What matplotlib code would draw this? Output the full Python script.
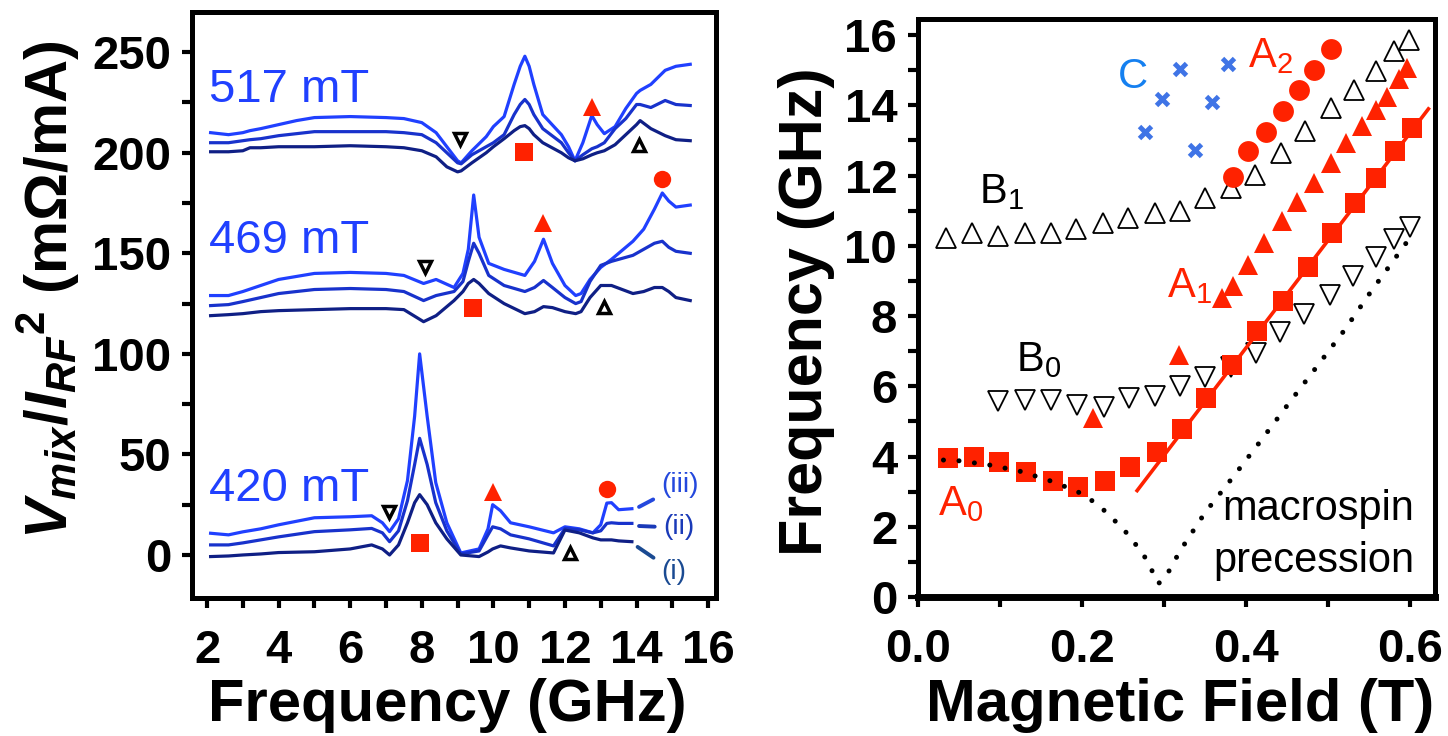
import matplotlib
matplotlib.use('Agg')
import matplotlib.pyplot as plt
from matplotlib.ticker import MultipleLocator, FormatStrFormatter

plt.rcParams['font.family'] = ['Liberation Sans', 'DejaVu Sans']
plt.rcParams['mathtext.fontset'] = 'custom'
plt.rcParams['mathtext.rm'] = 'Liberation Sans'
plt.rcParams['mathtext.it'] = 'Liberation Sans:italic:bold'
plt.rcParams['mathtext.bf'] = 'Liberation Sans:bold'
plt.rcParams['mathtext.sf'] = 'Liberation Sans'

# ---------------- left panel: spectra (frequency GHz, signal mOhm/mA) ----------------
f517 = [2.1, 2.6, 3.0, 3.2, 3.5, 4.0, 4.5, 5.0, 6.0, 7.0, 7.5, 8.0, 8.4, 8.7, 9.0, 9.1, 9.4, 9.8,
        10.0, 10.3, 10.58, 10.75, 10.88, 11.0, 11.13, 11.38, 11.9, 12.1, 12.28, 12.5, 12.75, 12.9,
        13.1, 13.4, 13.7, 14.0, 14.1, 14.4, 14.8, 15.1, 15.5]
s517_iii = [210, 209, 210, 211, 212, 214, 216, 217.5, 218, 217.5, 217, 215, 210, 203, 196, 195, 201, 208,
            213, 218, 234, 243, 248, 243, 234, 219, 209, 203, 196, 205, 218.5, 214,
            209.5, 213, 222, 229.5, 231, 234, 241, 243, 244]
s517_ii = [205, 205, 206, 206.5, 207, 208.5, 209.5, 210.5, 210.5, 210.5, 210, 209, 205, 200, 195, 194.5, 199, 203,
           205, 209, 219, 224, 226.5, 224, 219, 212, 205, 200, 196, 199, 202, 203,
           205, 212, 217, 224, 224, 222.5, 226, 224, 223.5]
s517_i = [200.5, 200.5, 201, 202.5, 202.5, 203, 203, 203, 203.5, 203, 202.5, 201, 198, 193, 190.5, 191, 195, 200,
          203, 207, 211, 213, 213.5, 212, 209, 205, 200, 197.5, 196, 197, 199, 200,
          201, 204, 209, 214, 216, 212, 208.5, 206.5, 206]

f469 = [2.1, 2.6, 3.0, 3.5, 4.0, 5.0, 6.0, 7.0, 7.5, 8.05, 8.4, 8.9, 9.15, 9.3, 9.45, 9.6, 9.87, 10.3,
        10.88, 11.15, 11.4, 11.65, 12.0, 12.3, 12.45, 12.7, 13.0, 13.3, 13.9, 14.2, 14.5, 14.72, 14.9,
        15.1, 15.5]
s469_iii = [129, 129, 131, 134, 137, 140, 140.5, 140, 139, 135, 137, 133, 140, 152, 179, 158, 145, 142,
            139, 146, 157, 145, 134, 129, 130, 137, 143, 147, 156, 162, 172, 180, 176, 173, 174]
s469_ii = [124, 124.5, 126, 128, 130, 132, 132.5, 132, 131, 126.5, 129, 131, 136, 146, 155, 150, 139, 134,
           131, 133, 136.5, 133, 128, 125, 126, 136, 144, 146, 149, 152, 155, 156, 153, 151, 150]
s469_i = [119, 119.5, 120, 121, 121.5, 122, 122.5, 122.5, 122, 116, 119, 126.5, 131, 135, 137, 135, 130, 125,
          120, 121, 123.5, 123, 121, 120, 121, 128, 134, 134, 130, 131, 133, 133, 131, 128, 126.5]

f420 = [2.1, 2.6, 3.0, 3.5, 4.0, 5.0, 6.0, 6.6, 6.9, 7.1, 7.35, 7.6, 7.8, 7.94, 8.15, 8.39, 8.7, 9.09,
        9.6, 9.85, 9.98, 10.2, 10.48, 11.0, 11.68, 12.0, 12.4, 12.78, 13.0, 13.17, 13.3, 13.5, 13.87]
s420_iii = [10.8, 10, 11.5, 13, 15, 18.5, 19, 19.5, 16, 11.6, 18, 37, 69, 100, 69, 36, 16, 1,
            3, 13, 25, 22, 16, 14, 11, 14, 13, 11, 15, 25.8, 26, 22.5, 23]
s420_ii = [5, 5, 6, 7.5, 9, 11.6, 12.5, 13.2, 11, 6.6, 12, 27, 45, 58, 45, 26, 12, 0.5,
           2, 10, 14, 13, 10, 8, 4.5, 13.2, 12.5, 11, 12, 15.7, 16, 15.7, 15.7]
s420_i = [-0.8, -0.5, 0, 0.5, 1.2, 1.6, 3, 5, 3, 0, 5, 16, 26, 30, 25, 16, 8, 0,
          -0.8, 1.5, 3, 4.5, 3.5, 2, 1, 12.4, 11, 8.5, 7.5, 7.5, 7.5, 7, 6.6]

# mode markers on spectra
Lb0_f = [9.07, 8.09, 7.09];   Lb0_v = [207, 143.3, 21.5]
Lb1_f = [14.07, 13.08, 12.13]; Lb1_v = [204, 123.4, 0.8]
La0_f = [10.85, 9.43, 7.94];  La0_v = [200.5, 122.6, 5.8]
La1_f = [12.75, 11.4, 10.0];  La1_v = [223, 165, 31.5]
La2_f = [14.72, 13.17];       La2_v = [187, 32.6]

field_labels = ['517 mT', '469 mT', '420 mT']
field_label_y = [225, 150, 27]

# ---------------- right panel: frequency vs field ----------------
A0_B = [0.036, 0.068, 0.099, 0.132, 0.165, 0.195, 0.228, 0.258, 0.291, 0.322, 0.3515, 0.383, 0.413,
        0.445, 0.4755, 0.504, 0.533, 0.558, 0.5815, 0.6024]
A0_F = [3.97, 4.00, 3.84, 3.57, 3.29, 3.14, 3.29, 3.71, 4.12, 4.79, 5.66, 6.61, 7.58,
        8.44, 9.41, 10.36, 11.22, 11.93, 12.69, 13.35]
A1_B = [0.213, 0.318, 0.370, 0.384, 0.402, 0.422, 0.444, 0.4617, 0.4827, 0.503, 0.522, 0.541, 0.5575,
        0.571, 0.5866, 0.596]
A1_F = [5.09, 6.89, 8.51, 8.86, 9.46, 10.08, 10.72, 11.26, 11.8, 12.36, 12.93, 13.4, 13.87,
        14.25, 14.75, 15.06]
A2_B = [0.384, 0.402, 0.424, 0.445, 0.464, 0.483, 0.503]
A2_F = [11.97, 12.69, 13.24, 13.85, 14.44, 15.01, 15.6]
B0_B = [0.097, 0.1306, 0.1622, 0.1934, 0.2261, 0.2568, 0.2884, 0.3187, 0.3503, 0.381, 0.4116, 0.4415,
        0.470, 0.5024, 0.530, 0.5576, 0.5806, 0.5996]
B0_F = [5.58, 5.61, 5.61, 5.47, 5.42, 5.66, 5.71, 6.01, 6.26, 6.56, 6.96, 7.56,
        8.05, 8.6, 9.15, 9.67, 10.19, 10.55]
B1_B = [0.034, 0.066, 0.097, 0.130, 0.162, 0.193, 0.225, 0.256, 0.289, 0.3195, 0.350, 0.382, 0.411,
        0.442, 0.472, 0.503, 0.531, 0.558, 0.580, 0.598]
B1_F = [10.22, 10.36, 10.27, 10.36, 10.36, 10.47, 10.65, 10.79, 10.93, 10.98, 11.36, 11.64, 12.02,
        12.64, 13.26, 13.92, 14.44, 14.99, 15.54, 15.87]
C_B = [0.2766, 0.297, 0.319, 0.337, 0.358, 0.378]
C_F = [13.23, 14.18, 15.04, 12.74, 14.11, 15.18]
fit_B = [0.267, 0.622]
fit_F = [3.03, 13.9]
mac_B = [0.031, 0.0495, 0.087, 0.123, 0.1586, 0.193, 0.2094, 0.224, 0.2505, 0.274, 0.283, 0.293, 0.303,
         0.3195, 0.350, 0.385, 0.419, 0.452, 0.486, 0.520, 0.552, 0.597]
mac_F = [3.90, 3.88, 3.76, 3.59, 3.33, 3.02, 2.79, 2.53, 1.93, 1.24, 0.85, 0.38, 0.62,
         1.32, 2.41, 3.45, 4.49, 5.52, 6.56, 7.61, 8.70, 10.15]

# ---------------- styling ----------------
RED = '#ff2200'
C3, C2, C1 = '#2040ff', '#1832cc', '#0f1f85'
W, H = 1448, 736

fig = plt.figure(figsize=(W / 100, H / 100), dpi=100)
ax1 = fig.add_axes([192 / W, 1 - 598 / H, (716 - 192) / W, (598 - 12) / H])
ax2 = fig.add_axes([918 / W, 1 - 597 / H, (1435 - 918) / W, (597 - 19) / H])

# left panel curves
for fx, si, sii, siii in [(f517, s517_i, s517_ii, s517_iii),
                          (f469, s469_i, s469_ii, s469_iii),
                          (f420, s420_i, s420_ii, s420_iii)]:
    ax1.plot(fx, siii, color=C3, lw=2.3, solid_joinstyle='round')
    ax1.plot(fx, sii, color=C2, lw=2.3, solid_joinstyle='round')
    ax1.plot(fx, si, color=C1, lw=2.3, solid_joinstyle='round')

ax1.plot(Lb0_f, Lb0_v, 'v', ls='none', ms=9, mfc='white', mec='k', mew=2.5, zorder=4)
ax1.plot(Lb1_f, Lb1_v, '^', ls='none', ms=9, mfc='white', mec='k', mew=2.5, zorder=4)
ax1.plot(La0_f, La0_v, 's', ls='none', ms=12.5, color=RED, mew=0, zorder=4)
ax1.plot(La1_f, La1_v, '^', ls='none', ms=13, color=RED, mew=0, zorder=4)
ax1.plot(La2_f, La2_v, 'o', ls='none', ms=12.5, color=RED, mew=0, zorder=4)

for lab, yv in zip(field_labels, field_label_y):
    ax1.text(2.05, yv, lab, color=C3, fontsize=34, ha='left', va='baseline')

curve_labels = ['(iii)', '(ii)', '(i)']
curve_label_pos = [(14.68, 34.8), (14.74, 13.9), (14.68, -8.4)]
curve_label_tip = [(14.07, 23.9), (14.07, 14.4), (14.03, 4.0)]
curve_label_rel = [(0, 0.1), (0, 0.5), (0, 0.85)]
curve_label_col = ['#2448dd', '#1a3ab8', '#1a4a92']
for lab, pos, tip, rel, col in zip(curve_labels, curve_label_pos, curve_label_tip,
                                   curve_label_rel, curve_label_col):
    ax1.annotate(lab, xy=tip, xytext=pos, ha='left', va='center', fontsize=20, color=col,
                 arrowprops=dict(arrowstyle='-', color=col, lw=2.8, shrinkA=4, shrinkB=0,
                                 relpos=rel))

ax1.set_xlim(1.58, 16.22)
ax1.set_ylim(-21.4, 270)
ax1.xaxis.set_major_locator(MultipleLocator(2))
ax1.xaxis.set_minor_locator(MultipleLocator(1))
ax1.yaxis.set_major_locator(MultipleLocator(50))
ax1.yaxis.set_minor_locator(MultipleLocator(25))

# right panel
ax2.plot(B1_B, B1_F, '^', ls='none', ms=14, mfc='white', mec='k', mew=1.3, zorder=3)
ax2.plot(B0_B, B0_F, 'v', ls='none', ms=14, mfc='white', mec='k', mew=1.3, zorder=3)
ax2.plot(fit_B, fit_F, '-', color=RED, lw=2.6, zorder=4)
ax2.plot(A0_B, A0_F, 's', ls='none', ms=14.5, color=RED, mew=0, zorder=4)
ax2.plot(A1_B, A1_F, '^', ls='none', ms=15, color=RED, mew=0, zorder=4)
ax2.plot(A2_B, A2_F, 'o', ls='none', ms=15, color=RED, mew=0, zorder=4)
ax2.plot(C_B, C_F, 'x', ls='none', ms=9, mew=3.5, color='#3f74e6', zorder=4)
ax2.plot(mac_B, mac_F, color='k', lw=3.6, ls=(0, (0.01, 3.1)), dash_capstyle='round', zorder=5)

mode_labels = ['A$_2$', 'C', 'B$_1$', 'A$_1$', 'B$_0$', 'A$_0$']
mode_label_pos = [(0.4024, 15.1), (0.243, 14.5), (0.074, 11.22), (0.304, 8.55), (0.119, 6.42), (0.0244, 2.34)]
mode_label_col = [RED, '#1580f0', 'k', RED, 'k', RED]
for lab, (xb, yf), col in zip(mode_labels, mode_label_pos, mode_label_col):
    ax2.text(xb, yf, lab, color=col, fontsize=30, ha='left', va='baseline', zorder=6)
ax2.text(0.605, 2.19, 'macrospin', fontsize=30, ha='right', va='baseline', color='k', zorder=6)
ax2.text(0.605, 0.72, 'precession', fontsize=30, ha='right', va='baseline', color='k', zorder=6)

ax2.set_xlim(0, 0.63)
ax2.set_ylim(0, 16.46)
ax2.xaxis.set_major_locator(MultipleLocator(0.2))
ax2.xaxis.set_minor_locator(MultipleLocator(0.1))
ax2.xaxis.set_major_formatter(FormatStrFormatter('%.1f'))
ax2.yaxis.set_major_locator(MultipleLocator(2))
ax2.yaxis.set_minor_locator(MultipleLocator(1))

for ax in (ax1, ax2):
    for s in ax.spines.values():
        s.set_linewidth(3.6)
    ax.tick_params(which='both', direction='out', length=7, width=3, labelsize=34)
    ax.tick_params(axis='x', which='both', pad=15)
    ax.tick_params(axis='y', which='both', pad=8)
    plt.setp(ax.get_xticklabels() + ax.get_yticklabels(), fontweight='bold')
ax2.spines['bottom'].set_linewidth(5)

fig.text(48 / W, 1 - 290 / H,
         r'$\mathit{V}_{\mathit{mix}}\mathbf{/}\mathit{I}_{\mathit{RF}}{}^{\mathbf{2}}$ (mΩ/mA)',
         rotation=90, ha='center', va='center', fontsize=43, fontweight='bold')
fig.text(447 / W, 1 - 721 / H, 'Frequency (GHz)', ha='center', va='baseline',
         fontsize=43, fontweight='bold')
fig.text(1180 / W, 1 - 721 / H, 'Magnetic Field (T)', ha='center', va='baseline',
         fontsize=43, fontweight='bold')
fig.text(806 / W, 1 - 312 / H, 'Frequency (GHz)', rotation=90, ha='center', va='center',
         fontsize=44, fontweight='bold')

fig.savefig('out.png', dpi=100)
